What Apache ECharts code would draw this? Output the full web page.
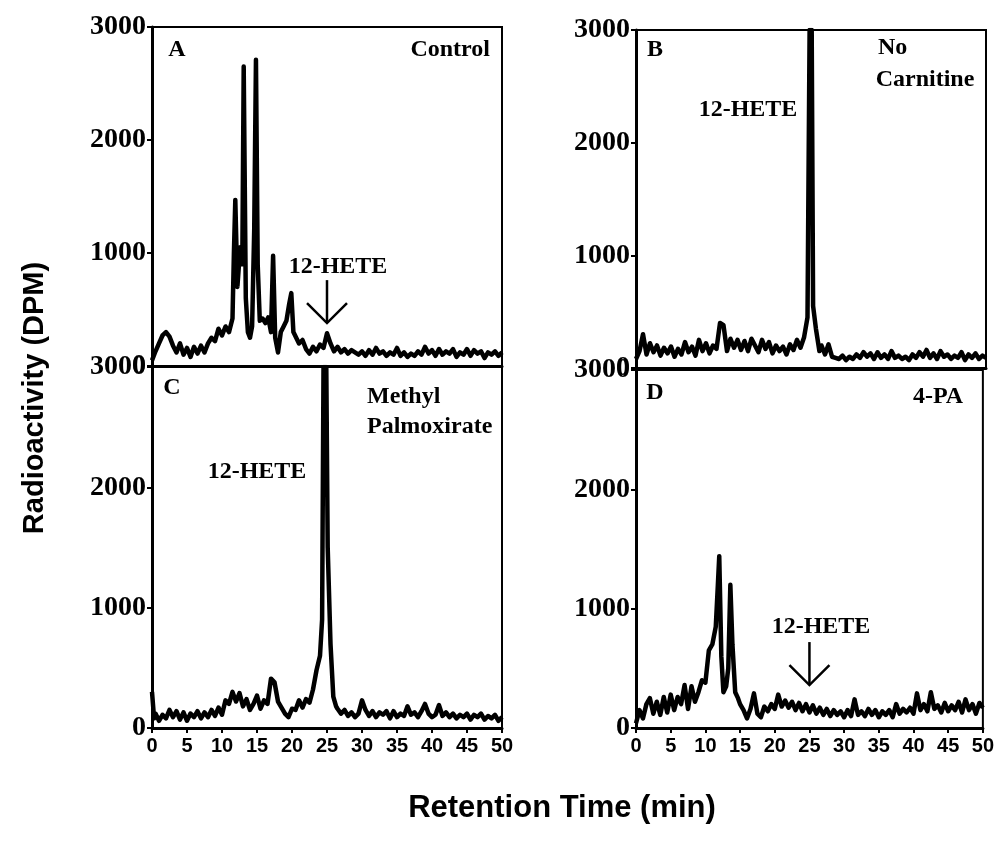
<!DOCTYPE html>
<html>
<head>
    <meta charset="utf-8">
    <title>Radioactivity chromatograms</title>
    <script type="text/javascript" src="https://cdn.jsdelivr.net/npm/echarts/dist/echarts.min.js"></script>
</head>
<body style="margin:0;background:#fff;">
    <div id="main" style="width: 997px;height:851px;"></div>

    <script type="text/javascript">
        // tick labels
        var xTicks = [0, 5, 10, 15, 20, 25, 30, 35, 40, 45, 50];
        var yTicks = [0, 1000, 2000, 3000];

        // traces, [retention time (min), DPM]
        var traceA = [
            [0,50],[0.5,130],[1,200],[1.5,270],[2,300],[2.5,260],[3,180],[3.5,120],[4,200],[4.5,100],
            [5,160],[5.5,80],[6,170],[6.5,110],[7,180],[7.5,120],[8,200],[8.5,250],[9,220],[9.5,330],
            [10,270],[10.5,350],[11,300],[11.5,420],[11.7,1000],[11.9,1470],[12.2,700],[12.6,1050],[12.9,900],
            [13.1,2650],[13.4,600],[13.7,300],[14.0,250],[14.3,350],[14.6,1200],[14.85,2710],[15.1,900],
            [15.4,400],[15.8,420],[16.2,380],[16.6,430],[17.0,300],[17.3,976],[17.6,250],[18.0,120],
            [18.4,300],[18.8,350],[19.2,400],[19.6,550],[19.9,645],[20.2,300],[20.6,250],[21.0,200],
            [21.5,230],[22,150],[22.5,110],[23,170],[23.5,130],[24,190],[24.5,160],[25,290],[25.5,200],
            [26,130],[26.5,170],[27,120],[27.5,150],[28,110],[28.5,140],[29,120],[29.5,100],[30,130],
            [30.5,90],[31,140],[31.5,100],[32,160],[32.5,110],[33,130],[33.5,90],[34,120],[34.5,100],
            [35,160],[35.5,90],[36,120],[36.5,80],[37,110],[37.5,90],[38,130],[38.5,100],[39,170],
            [39.5,110],[40,140],[40.5,90],[41,150],[41.5,100],[42,130],[42.5,110],[43,150],[43.5,80],
            [44,120],[44.5,100],[45,150],[45.5,90],[46,140],[46.5,110],[47,130],[47.5,70],[48,120],
            [48.5,100],[49,130],[49.5,90],[50,120]
        ];
        var traceB = [
            [0,80],[0.5,150],[1,300],[1.5,120],[2,220],[2.5,140],[3,200],[3.5,110],[4,180],[4.5,130],
            [5,190],[5.5,100],[6,170],[6.5,120],[7,230],[7.5,140],[8,190],[8.5,110],[9,250],[9.5,150],
            [10,220],[10.5,130],[11,200],[11.5,170],[12,400],[12.5,380],[13,150],[13.5,260],[14,180],
            [14.5,250],[15,160],[15.5,240],[16,150],[16.5,260],[17,200],[17.5,140],[18,250],[18.5,170],
            [19,230],[19.5,130],[20,200],[20.5,150],[21,190],[21.5,120],[22,210],[22.5,160],[23,250],
            [23.5,180],[24,270],[24.5,450],[24.8,3000],[25.1,3000],[25.3,550],[25.7,350],[26.2,150],
            [26.5,200],[27,120],[27.5,210],[28,100],[28.5,90],[29,80],[29.5,110],[30,70],[30.5,100],
            [31,80],[31.5,120],[32,90],[32.5,140],[33,100],[33.5,130],[34,80],[34.5,140],[35,90],
            [35.5,120],[36,80],[36.5,150],[37,90],[37.5,110],[38,80],[38.5,100],[39,70],[39.5,120],
            [40,90],[40.5,140],[41,100],[41.5,160],[42,90],[42.5,130],[43,80],[43.5,150],[44,100],
            [44.5,120],[45,80],[45.5,110],[46,90],[46.5,140],[47,70],[47.5,120],[48,90],[48.5,130],
            [49,80],[49.5,110],[50,90]
        ];
        var traceC = [
            [0,300],[0.3,80],[0.5,120],[1,60],[1.5,110],[2,80],[2.5,150],[3,90],[3.5,140],[4,70],
            [4.5,130],[5,60],[5.5,120],[6,90],[6.5,140],[7,80],[7.5,130],[8,90],[8.5,150],[9,100],
            [9.5,170],[10,110],[10.5,230],[11,200],[11.5,300],[12,220],[12.5,290],[13,180],[13.5,240],
            [14,150],[14.5,200],[15,270],[15.5,160],[16,230],[16.5,200],[17,410],[17.5,380],[18,220],
            [18.5,170],[19,120],[19.5,90],[20,160],[20.5,150],[21,230],[21.5,170],[22,240],[22.5,210],
            [23,320],[23.5,480],[24,600],[24.3,900],[24.5,3000],[24.9,3000],[25.1,1500],[25.5,700],
            [25.9,260],[26.3,180],[26.5,160],[27,120],[27.5,150],[28,100],[28.5,130],[29,90],[29.5,120],
            [30,230],[30.5,150],[31,100],[31.5,140],[32,90],[32.5,130],[33,110],[33.5,140],[34,80],
            [34.5,140],[35,90],[35.5,120],[36,100],[36.5,180],[37,110],[37.5,130],[38,90],[38.5,140],
            [39,200],[39.5,120],[40,90],[40.5,110],[41,190],[41.5,100],[42,130],[42.5,90],[43,120],
            [43.5,80],[44,110],[44.5,90],[45,120],[45.5,70],[46,110],[46.5,90],[47,120],[47.5,70],
            [48,100],[48.5,80],[49,110],[49.5,60],[50,90]
        ];
        var traceD = [
            [0,40],[0.5,150],[1,80],[1.5,200],[2,250],[2.5,120],[3,220],[3.5,110],[4,260],[4.5,130],
            [5,280],[5.5,150],[6,260],[6.5,200],[7,360],[7.5,160],[8,350],[8.5,220],[9,300],[9.5,400],
            [10,380],[10.5,650],[11,700],[11.5,850],[11.8,1200],[12.0,1440],[12.3,600],[12.6,300],
            [13.0,350],[13.3,500],[13.6,1200],[13.9,700],[14.3,300],[14.7,250],[15,200],[15.5,150],
            [16,80],[16.5,160],[17,290],[17.5,120],[18,90],[18.5,180],[19,140],[19.5,200],[20,160],
            [20.5,280],[21,180],[21.5,230],[22,170],[22.5,220],[23,150],[23.5,210],[24,140],[24.5,200],
            [25,130],[25.5,190],[26,120],[26.5,170],[27,110],[27.5,160],[28,100],[28.5,150],[29,110],
            [29.5,140],[30,90],[30.5,150],[31,100],[31.5,240],[32,110],[32.5,140],[33,100],[33.5,160],
            [34,110],[34.5,150],[35,90],[35.5,140],[36,110],[36.5,150],[37,90],[37.5,200],[38,120],
            [38.5,160],[39,130],[39.5,170],[40,120],[40.5,290],[41,150],[41.5,200],[42,140],[42.5,300],
            [43,160],[43.5,190],[44,130],[44.5,210],[45,140],[45.5,190],[46,150],[46.5,220],[47,130],
            [47.5,240],[48,150],[48.5,200],[49,120],[49.5,210],[50,170]
        ];

        var chart = echarts.init(document.getElementById('main'));

        var serif = '"Liberation Serif", "Times New Roman", serif';
        var sans = '"Liberation Sans", Arial, sans-serif';

        function xAxis(i, labels) {
            return {
                type: 'value', gridIndex: i, min: xTicks[0], max: xTicks[xTicks.length - 1], interval: 5,
                axisLine: { lineStyle: { color: '#000', width: 3 } },
                axisTick: { show: labels, length: 5, lineStyle: { color: '#000', width: 2 } },
                axisLabel: { show: labels, color: '#000', fontFamily: sans, fontWeight: 'bold', fontSize: 20, margin: 8 },
                splitLine: { show: false }
            };
        }
        function yAxis(i) {
            return {
                type: 'value', gridIndex: i, min: yTicks[0], max: yTicks[yTicks.length - 1], interval: 1000,
                axisLine: { show: true, lineStyle: { color: '#000', width: 3 } },
                axisTick: { length: 5, lineStyle: { color: '#000', width: 2 } },
                axisLabel: {
                    color: '#000', fontFamily: serif, fontWeight: 'bold', fontSize: 28, margin: 6,
                    formatter: function (v) { return String(v); }
                },
                splitLine: { show: false }
            };
        }
        function trace(i, data) {
            return {
                type: 'line', xAxisIndex: i, yAxisIndex: i, data: data,
                showSymbol: false, lineStyle: { color: '#000', width: 4.5, join: 'round' }
            };
        }

        var gridStyle = { show: true, borderColor: '#000', borderWidth: 2 };
        chart.setOption({
            animation: false,
            grid: [
                Object.assign({ left: 152, top: 27, width: 350, height: 339 }, gridStyle),
                Object.assign({ left: 636, top: 30, width: 350, height: 338 }, gridStyle),
                Object.assign({ left: 152, top: 367, width: 350, height: 361 }, gridStyle),
                Object.assign({ left: 636, top: 370, width: 350, height: 358 }, gridStyle)
            ],
            xAxis: [xAxis(0, false), xAxis(1, false), xAxis(2, true), xAxis(3, true)],
            yAxis: [yAxis(0), yAxis(1), yAxis(2), yAxis(3)],
            series: [trace(0, traceA), trace(1, traceB), trace(2, traceC), trace(3, traceD)]
        });

        // annotations
        function txt(x, y, s, align, size, family) {
            return {
                type: 'text', x: x, y: y, silent: true,
                style: {
                    text: s, fill: '#000', align: align || 'center', verticalAlign: 'middle',
                    font: 'bold ' + (size || 24) + 'px ' + (family || serif)
                }
            };
        }
        function arrow(grid, t, top, tip) {
            var a = chart.convertToPixel({ gridIndex: grid }, [t, top]);
            var b = chart.convertToPixel({ gridIndex: grid }, [t, tip]);
            var style = { stroke: '#000', lineWidth: 2.5, fill: null };
            return [
                { type: 'line', silent: true, shape: { x1: a[0], y1: a[1], x2: b[0], y2: b[1] }, style: style },
                { type: 'polyline', silent: true, shape: { points: [[b[0] - 20, b[1] - 20], [b[0], b[1]], [b[0] + 20, b[1] - 20]] }, style: style }
            ];
        }

        var graphics = [
            txt(177, 50, 'A'), txt(490, 50, 'Control', 'right'), txt(338, 267, '12-HETE'),
            txt(655, 50, 'B'), txt(878, 48, 'No', 'left'), txt(925, 80, 'Carnitine'), txt(748, 110, '12-HETE'),
            txt(172, 388, 'C'), txt(367, 397, 'Methyl', 'left'), txt(367, 427, 'Palmoxirate', 'left'), txt(257, 472, '12-HETE'),
            txt(655, 393, 'D'), txt(938, 397, '4-PA'), txt(821, 627, '12-HETE'),
            txt(562, 808, 'Retention Time (min)', 'center', 31, sans),
            {
                type: 'text', x: 35, y: 398, rotation: Math.PI / 2, silent: true,
                style: { text: 'Radioactivity (DPM)', fill: '#000', align: 'center', verticalAlign: 'middle', font: 'bold 29px ' + sans }
            }
        ].concat(arrow(0, 25, 760, 380), arrow(3, 25, 720, 360));

        chart.setOption({ graphic: graphics });
    </script>
</body>
</html>
